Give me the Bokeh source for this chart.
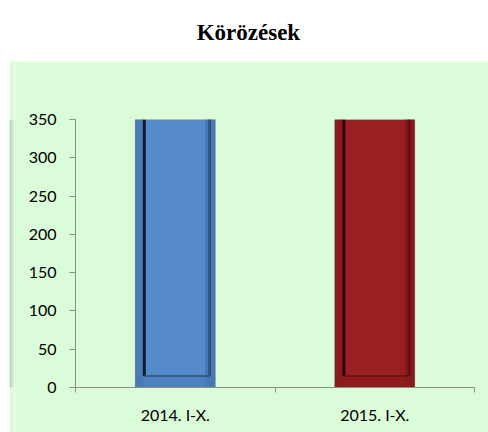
import numpy as np
from bokeh.plotting import figure
from bokeh.models import Range1d, FixedTicker
from bokeh.layouts import column, row
from bokeh.core.properties import value
from bokeh.embed import file_html
from bokeh.resources import INLINE

# ---- data ----
title = "Körözések"
categories = ["2014. I-X.", "2015. I-X."]
values = [350, 350]
bar_colors = ["#558BCB", "#9A1F20"]
edge_dark = ["#101C2E", "#2B0506"]
edge_mid = ["#30507A", "#601314"]
strip_dark = ["#4877B0", "#861A1B"]
y_ticks = [0, 50, 100, 150, 200, 250, 300, 350]

GREEN = "#DAFCD8"
AXIS = "#8C8C8C"
FONT = "Lato"

# ---- title figure ----
tf = figure(width=488, height=61, x_range=Range1d(0, 1), y_range=Range1d(0, 1),
            toolbar_location=None, output_backend="svg", min_border=0,
            x_axis_location=None, y_axis_location=None)
tf.outline_line_color = None
tf.grid.visible = False
tf.text(x=[0.508], y=[0.475], text=[title], text_align="center", text_baseline="alphabetic",
        text_font=value("Liberation Serif"), text_font_style="bold", text_font_size="23px",
        text_color="#000000")

# ---- left stripe (box border) ----
sf = figure(width=5, height=371, x_range=Range1d(0, 5), y_range=Range1d(0, 1),
            toolbar_location=None, output_backend="svg", min_border=0,
            x_axis_location=None, y_axis_location=None, margin=(0, 0, 0, 9))
sf.outline_line_color = None
sf.grid.visible = False
sf.background_fill_color = GREEN
sf.border_fill_color = GREEN
sf.quad(left=[0, 1, 2, 3, 4], right=[1, 2, 3, 4, 5], bottom=0, top=1,
        fill_color=["#A3D2A0", "#A9D9A6", "#B6E4B3", "#C6EFC3", "#D2F6CF"], line_color=None)

# ---- main figure ----
n = len(categories)
xc = np.arange(n) + 0.5
vals = np.array(values, dtype=float)
bw = 0.4

p = figure(width=474, height=371, x_range=Range1d(0, n), y_range=Range1d(0, 350),
           toolbar_location=None, output_backend="svg",
           min_border_left=61, min_border_right=14, min_border_top=58, min_border_bottom=45)
p.background_fill_color = GREEN
p.border_fill_color = GREEN
p.outline_line_color = None
p.grid.visible = False

# bars
p.vbar(x=xc, top=vals, bottom=0, width=bw, fill_color=bar_colors,
       line_color="#808080", line_alpha=0.7, line_width=1)
# bevel strips
p.vbar(x=xc - bw / 2 + 0.02, top=vals, bottom=0, width=0.04, fill_color=strip_dark,
       line_color=None, fill_alpha=0.8)
p.vbar(x=xc + bw / 2 - 0.025, top=vals, bottom=0, width=0.05, fill_color=strip_dark,
       line_color=None, fill_alpha=0.9)
p.vbar(x=xc, top=15, bottom=0, width=bw - 0.01, fill_color=strip_dark,
       line_color=None, fill_alpha=0.5)
# bevel lines
p.segment(x0=xc - bw / 2 + 0.045, x1=xc - bw / 2 + 0.045, y0=15, y1=vals,
          line_color=edge_dark, line_width=3)
p.segment(x0=xc + bw / 2 - 0.028, x1=xc + bw / 2 - 0.028, y0=15, y1=vals,
          line_color=edge_mid, line_width=3)
p.segment(x0=xc - bw / 2 + 0.045, x1=xc + bw / 2 - 0.028, y0=15, y1=15,
          line_color=edge_mid, line_width=2, line_alpha=0.8)

# x axis
xa = p.xaxis[0]
xa.ticker = FixedTicker(ticks=list(xc), minor_ticks=list(range(n + 1)))
xa.major_label_overrides = {float(x): c for x, c in zip(xc, categories)}
xa.major_tick_in = 0
xa.major_tick_out = 0
xa.minor_tick_in = 0
xa.minor_tick_out = 5
xa.minor_tick_line_color = AXIS
xa.axis_line_color = AXIS
xa.major_label_standoff = 12
xa.major_label_text_font = FONT
xa.major_label_text_font_size = "16px"
xa.major_label_text_color = "#000000"

# y axis
ya = p.yaxis[0]
ya.ticker = FixedTicker(ticks=y_ticks, minor_ticks=[])
ya.major_tick_in = 0
ya.major_tick_out = 6
ya.major_tick_line_color = AXIS
ya.minor_tick_line_color = None
ya.axis_line_color = AXIS
ya.major_label_standoff = 13
ya.major_label_text_font = FONT
ya.major_label_text_font_size = "16px"
ya.major_label_text_color = "#000000"

layout = column(tf, row(sf, p, spacing=0), spacing=0)

open("out.html", "w").write(file_html(layout, INLINE))
